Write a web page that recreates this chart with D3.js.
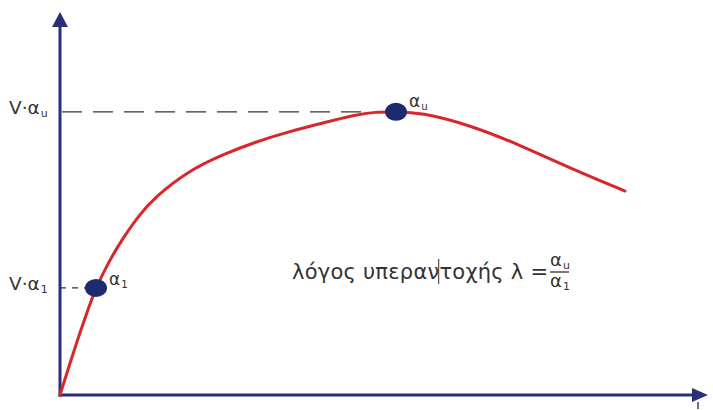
<!DOCTYPE html>
<html>
<head>
<meta charset="utf-8">
<script src="https://cdn.jsdelivr.net/npm/d3@7/dist/d3.min.js"></script>
<style>
  html, body { margin: 0; padding: 0; background: #fff; }
  svg { display: block; }
  text { font-family: "DejaVu Sans", Verdana, sans-serif; fill: #333; }
</style>
</head>
<body>
<svg id="chart" width="713" height="410"></svg>
<script>
// Capacity curve: displacement (x) vs. base shear (y), arbitrary units
const curveX = [0, 0.235, 0.418, 0.563, 0.751, 0.966, 1.221, 1.487, 2.003, 2.535, 3.052, 3.568, 4.100, 4.617, 4.930, 5.258, 5.634, 6.416, 7.199, 7.981, 8.842];
const curveY = [0, 1.27, 2.18, 2.84, 3.50, 4.11, 4.74, 5.25, 5.94, 6.37, 6.71, 6.98, 7.21, 7.43, 7.51, 7.51, 7.50, 7.16, 6.63, 6.02, 5.41];

// Marked points: first yield (α1) and ultimate (αu)
const pointNames = ["α1", "αu"];
const pointX = [0.563, 5.258];
const pointY = [2.84, 7.51];

// Y-axis labels for the two levels
const levelLabels = ["V·α", "V·α"];
const levelSubs = ["1", "u"];

const svg = d3.select("#chart");
const x = d3.scaleLinear().domain([0, 10]).range([60, 699]);
const y = d3.scaleLinear().domain([0, 10]).range([395, 18]);

const navy = "#2b2e78";
const red = "#d8262b";

// Dashed guides from the y axis to each marked point
svg.append("line")
  .attr("x1", x(0) + 2).attr("x2", x(pointX[1]) - 30)
  .attr("y1", y(pointY[1])).attr("y2", y(pointY[1]))
  .attr("stroke", "#333").attr("stroke-width", 1.2)
  .attr("stroke-dasharray", "20,11");
svg.append("line")
  .attr("x1", x(0)).attr("x2", x(pointX[0]))
  .attr("y1", y(pointY[0])).attr("y2", y(pointY[0]))
  .attr("stroke", "#333").attr("stroke-width", 1.2)
  .attr("stroke-dasharray", "6,6");

// Axes with arrowheads
svg.append("line").attr("x1", x(0)).attr("y1", y(0) + 1.5).attr("x2", x(0)).attr("y2", 24)
  .attr("stroke", navy).attr("stroke-width", 3);
svg.append("path").attr("d", `M${x(0)},12 L${x(0) - 8},27 L${x(0) + 8},27 Z`).attr("fill", navy);
svg.append("line").attr("x1", x(0) - 1.5).attr("y1", y(0)).attr("x2", 696).attr("y2", y(0))
  .attr("stroke", navy).attr("stroke-width", 3);
svg.append("path").attr("d", `M708,${y(0)} L692,${y(0) - 7} L692,${y(0) + 7} Z`).attr("fill", navy);
svg.append("line").attr("x1", 698).attr("x2", 698).attr("y1", 402).attr("y2", 409)
  .attr("stroke", "#444").attr("stroke-width", 1.5);

// Capacity curve (smoothed through the sampled points)
const pts = curveX.map((v, i) => [v, curveY[i]]);
svg.append("path")
  .datum(pts)
  .attr("fill", "none")
  .attr("stroke", red)
  .attr("stroke-width", 3)
  .attr("stroke-linecap", "round")
  .attr("d", d3.line().x(d => x(d[0])).y(d => y(d[1])).curve(d3.curveBasis));

// Points
svg.selectAll("ellipse.pt")
  .data(pointX.map((v, i) => ({ x: v, y: pointY[i] })))
  .join("ellipse")
  .attr("class", "pt")
  .attr("cx", d => x(d.x)).attr("cy", d => y(d.y))
  .attr("rx", 11).attr("ry", 9)
  .attr("fill", "#1e2a6e");

// α with a subscript
function alphaLabel(g, px, py, sub, size) {
  const t = g.append("text").attr("x", px).attr("y", py).attr("font-size", size);
  t.append("tspan").text("α");
  t.append("tspan").attr("font-size", size * 0.6).attr("dy", size * 0.18).attr("dx", 1).text(sub);
  return t;
}
alphaLabel(svg, x(pointX[0]) + 13, y(pointY[0]) - 3, "1", 17);
alphaLabel(svg, x(pointX[1]) + 13, y(pointY[1]) - 5, "u", 17);

// Y level labels
[0, 1].forEach(i => {
  const yy = y(pointY[i]);
  const t = svg.append("text").attr("x", 9).attr("y", yy + 2).attr("font-size", 18.5);
  t.append("tspan").text(levelLabels[i]);
  t.append("tspan").attr("font-size", 11).attr("dy", 3).attr("dx", 1).text(levelSubs[i]);
});

// Overstrength ratio annotation
const note = svg.append("text").attr("x", 292).attr("y", 279).attr("font-size", 21)
  .attr("textLength", 256).attr("lengthAdjust", "spacing")
  .text("λόγος υπεραντοχής λ =");
// text cursor between "υπεραν" and "τοχής"
const caretX = 292 + note.node().getSubStringLength(0, 12) + 2;
svg.append("line").attr("x1", caretX).attr("x2", caretX).attr("y1", 259).attr("y2", 284)
  .attr("stroke", "#333").attr("stroke-width", 1);
alphaLabel(svg, 550, 266, "u", 18);
svg.append("line").attr("x1", 550).attr("x2", 569).attr("y1", 272).attr("y2", 272)
  .attr("stroke", "#333").attr("stroke-width", 1.3);
alphaLabel(svg, 550, 287, "1", 18);
</script>
</body>
</html>
